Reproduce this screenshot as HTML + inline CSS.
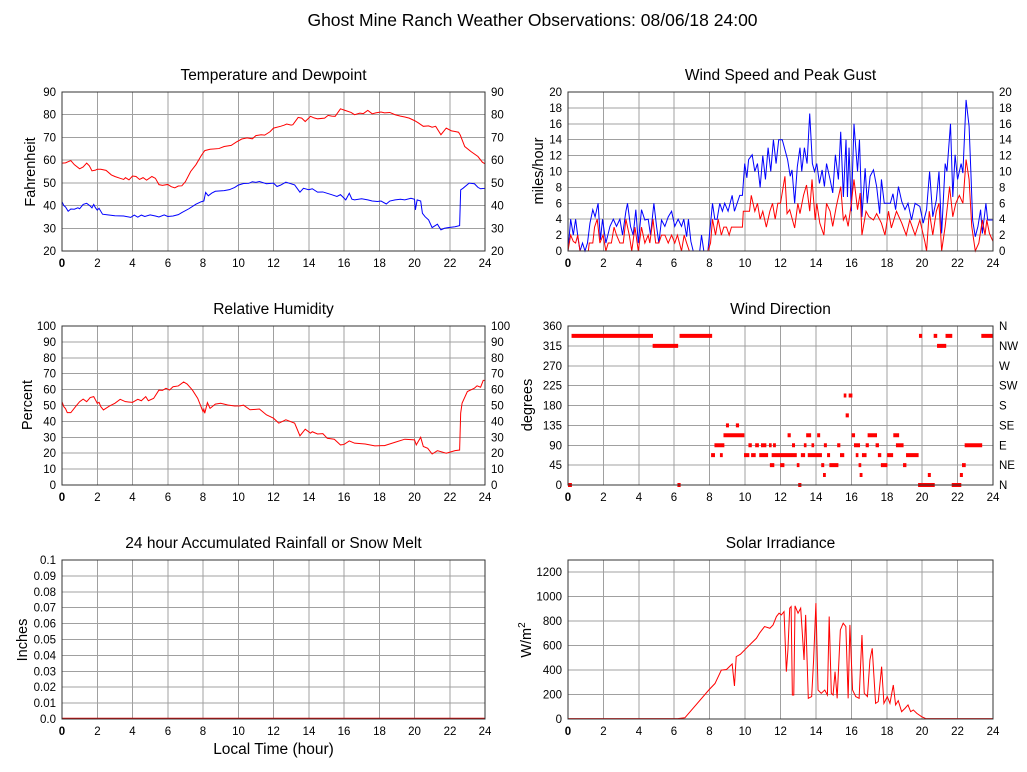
<!DOCTYPE html>
<html><head><meta charset="utf-8"><style>
html,body{margin:0;padding:0;background:#fff;}
svg{display:block;}
text{font-family:"Liberation Sans",Arial,sans-serif;fill:#000;}
.t{font-size:11.5px;}
.ttl{font-size:15.5px;}
.g{stroke:#a0a0a0;stroke-width:1;fill:none;shape-rendering:crispEdges;}
.f{stroke:#333;stroke-width:1;fill:none;shape-rendering:crispEdges;}
.r{stroke:#ff0000;stroke-width:1;fill:none;}
.b{stroke:#0000ff;stroke-width:1;fill:none;}
</style></head><body>
<svg width="1027" height="772" viewBox="0 0 1027 772" xmlns="http://www.w3.org/2000/svg">
<rect width="1027" height="772" fill="#fff"/>
<text x="532.5" y="26" text-anchor="middle" style="font-size:17.5px">Ghost Mine Ranch Weather Observations: 08/06/18 24:00</text>

<!-- titles -->
<text class="ttl" x="273.5" y="80" text-anchor="middle">Temperature and Dewpoint</text>
<text class="ttl" x="780.5" y="80" text-anchor="middle">Wind Speed and Peak Gust</text>
<text class="ttl" x="273.5" y="314" text-anchor="middle">Relative Humidity</text>
<text class="ttl" x="780.5" y="314" text-anchor="middle">Wind Direction</text>
<text class="ttl" x="273.5" y="548" text-anchor="middle">24 hour Accumulated Rainfall or Snow Melt</text>
<text class="ttl" x="780.5" y="548" text-anchor="middle">Solar Irradiance</text>
<text class="ttl" x="273.5" y="754" text-anchor="middle">Local Time (hour)</text>

<!-- y-axis labels -->
<text class="ttl" transform="translate(35,172) rotate(-90)" text-anchor="middle" style="font-size:14.5px">Fahrenheit</text>
<text class="ttl" transform="translate(543,171) rotate(-90)" text-anchor="middle" style="font-size:14.5px">miles/hour</text>
<text class="ttl" transform="translate(32,405) rotate(-90)" text-anchor="middle" style="font-size:14.5px">Percent</text>
<text class="ttl" transform="translate(532,405) rotate(-90)" text-anchor="middle" style="font-size:14.5px">degrees</text>
<text class="ttl" transform="translate(27,640) rotate(-90)" text-anchor="middle" style="font-size:14.5px">Inches</text>
<text class="ttl" transform="translate(531,640) rotate(-90)" text-anchor="middle" style="font-size:14.5px">W/m<tspan dy="-6" style="font-size:10px">2</tspan></text>

<!-- GRIDS -->
<g class="g">
<!-- left verticals -->
<path d="M97.5 92V251M132.5 92V251M168 92V251M203 92V251M238.5 92V251M273.5 92V251M309 92V251M344 92V251M379.5 92V251M414.5 92V251M450 92V251"/>
<path d="M97.5 326V485M132.5 326V485M168 326V485M203 326V485M238.5 326V485M273.5 326V485M309 326V485M344 326V485M379.5 326V485M414.5 326V485M450 326V485"/>
<path d="M97.5 560V719M132.5 560V719M168 560V719M203 560V719M238.5 560V719M273.5 560V719M309 560V719M344 560V719M379.5 560V719M414.5 560V719M450 560V719"/>
<!-- right verticals -->
<path d="M603.5 92V251M639 92V251M674 92V251M709.5 92V251M745 92V251M780.5 92V251M816 92V251M851.5 92V251M887 92V251M922 92V251M957.5 92V251"/>
<path d="M603.5 326V485M639 326V485M674 326V485M709.5 326V485M745 326V485M780.5 326V485M816 326V485M851.5 326V485M887 326V485M922 326V485M957.5 326V485"/>
<path d="M603.5 560V719M639 560V719M674 560V719M709.5 560V719M745 560V719M780.5 560V719M816 560V719M851.5 560V719M887 560V719M922 560V719M957.5 560V719"/>
<!-- temp horizontals -->
<path d="M62 114.7H485M62 137.4H485M62 160.1H485M62 182.9H485M62 205.6H485M62 228.3H485"/>
<!-- wind speed horizontals -->
<path d="M568 107.9H993M568 123.8H993M568 139.7H993M568 155.6H993M568 171.5H993M568 187.4H993M568 203.3H993M568 219.2H993M568 235.1H993"/>
<!-- RH -->
<path d="M62 341.9H485M62 357.8H485M62 373.7H485M62 389.6H485M62 405.5H485M62 421.4H485M62 437.3H485M62 453.2H485M62 469.1H485"/>
<!-- wind dir -->
<path d="M568 345.9H993M568 365.75H993M568 385.6H993M568 405.5H993M568 425.4H993M568 445.25H993M568 465.1H993"/>
<!-- rain -->
<path d="M62 575.9H485M62 591.8H485M62 607.7H485M62 623.6H485M62 639.5H485M62 655.4H485M62 671.3H485M62 687.2H485M62 703.1H485"/>
<!-- solar -->
<path d="M568 572.2H993M568 596.7H993M568 621.2H993M568 645.6H993M568 670.1H993M568 694.5H993"/>
</g>

<!-- DATA -->
<!-- temperature -->
<g transform="translate(62,296.43) scale(17.625,-2.2714)">
<polyline class="r" vector-effect="non-scaling-stroke" points="0,58.7 0.2,58.8 0.4,59.5 0.5,59.8 0.7,58 1.0,56.2 1.2,57 1.4,58.7 1.55,57.5 1.7,55.3 1.9,55.6 2.0,56 2.2,56 2.5,55.5 2.8,53.5 3.0,52.8 3.3,52 3.5,51.5 3.6,52.3 3.8,51.3 4.0,53 4.2,52.8 4.4,51.5 4.6,52.3 4.8,51.2 5.1,52.8 5.3,52 5.5,49.2 5.7,48.9 6.0,49.3 6.2,48.3 6.4,47.8 6.6,48.6 6.8,48.7 7.0,50.5 7.3,55 7.6,58 7.9,62 8.1,64.2 8.4,64.8 8.9,65.1 9.2,66 9.6,66.5 9.9,68 10.2,69.3 10.5,69.8 10.8,69.4 11.0,70.8 11.3,71.2 11.5,71 11.8,72.5 12.0,74.1 12.4,74.9 12.6,75.4 12.75,75.9 13.0,75.4 13.1,75.6 13.4,78.8 13.6,78.5 13.8,77 14.1,79.3 14.3,78.6 14.5,78.2 14.9,78.5 15.1,79.7 15.3,79.4 15.5,79.3 15.8,82.6 16.1,81.8 16.4,81 16.6,80 16.9,80.7 17.1,80.5 17.35,81.9 17.6,80.4 17.8,80.8 18.1,81.2 18.3,80.8 18.6,81 18.9,80 19.2,79.4 19.45,79 19.7,78.5 20.0,77.4 20.2,76.5 20.5,74.9 20.8,75.1 21.0,74.5 21.2,74.9 21.5,71.2 21.8,74.1 22.1,72.9 22.3,72.6 22.5,72.3 22.6,71 22.85,66 23.2,63.8 23.6,61.6 23.85,59.1 24,58.4"/>
<polyline class="b" vector-effect="non-scaling-stroke" points="0,41.7 0.1,40 0.2,39.4 0.35,37.5 0.5,38.5 0.7,38.4 0.9,39 1.0,38.6 1.2,40.5 1.4,41 1.6,39.8 1.7,39 1.8,40.5 1.9,39 2.0,38 2.1,38.8 2.3,36.2 2.6,35.9 3.0,35.5 3.5,35.4 3.9,34.8 4.1,35.8 4.3,34.9 4.5,35.8 4.7,35.2 5.0,35.9 5.3,35.4 5.5,35 5.8,35.9 6.0,35.2 6.3,35.4 6.6,36 6.8,36.9 7.2,38.6 7.6,40.6 7.9,41.7 8.05,42 8.15,45.8 8.3,44.3 8.5,45.5 8.7,46.3 9.2,46.6 9.5,47 9.8,48 10.0,49 10.3,49.7 10.6,49.8 10.8,50.5 11.0,50.2 11.2,50.6 11.6,49.6 12.0,49.9 12.2,48.4 12.4,49 12.7,50.3 13.2,49.1 13.5,45.9 13.7,47.6 14.0,47 14.2,47.4 14.5,45.9 14.8,46 15.05,45.4 15.3,44.8 15.6,44 15.8,44.8 16.1,42.5 16.3,45.4 16.45,42.8 16.6,42.5 17.0,43 17.35,42.5 17.6,42 17.9,41.8 18.1,42 18.4,40.7 18.6,42 18.9,42.5 19.2,42.8 19.45,42.5 19.8,43.2 20.0,42.8 20.05,38.1 20.15,42.5 20.35,42 20.45,36.6 20.6,35.1 20.8,33.7 21.0,30.3 21.3,31.8 21.5,29.3 21.7,30 21.9,30.3 22.3,30.7 22.56,31.2 22.62,46.9 22.75,47.6 23.1,49.9 23.4,49.6 23.6,48 23.75,47.4 24,47.6"/>
</g>

<!-- wind speed -->
<g transform="translate(568,251) scale(17.708,-7.95)">
<polyline class="b" vector-effect="non-scaling-stroke" points="0,0 0.15,4 0.3,2 0.43,4 0.58,1.4 0.68,0 0.82,1 0.96,0 1.1,1 1.24,3.5 1.4,5.2 1.53,4.3 1.7,6 1.83,1.4 1.95,4 2.14,1 2.37,3.1 2.56,4 2.74,3.1 2.93,4 3.08,2 3.27,5 3.36,6 3.53,3.1 3.68,2 3.83,5.2 3.97,1 4.15,5.2 4.34,3.9 4.53,4 4.66,2 4.85,6 5.0,3.1 5.13,1 5.28,3.9 5.47,3.1 5.66,4.3 5.85,5 6.03,3.1 6.22,4 6.41,3.1 6.54,4 6.7,1.8 6.8,4 6.94,1.2 7.07,0 7.44,0 7.54,2 7.67,0 7.9,0 8.16,6 8.29,4 8.42,4 8.57,6 8.72,5 8.85,6 9.04,5 9.27,7 9.4,5 9.7,7 9.85,7 9.98,11 10.1,9.2 10.2,11.5 10.4,12.1 10.55,10 10.7,11 10.85,8 11.0,12 11.15,9 11.3,13 11.45,10 11.6,14 11.75,11 11.9,14 12.1,14 12.4,11.5 12.55,9.4 12.65,10.2 12.8,6 12.95,10.6 13.1,13 13.2,10 13.35,13 13.5,11 13.65,17.3 13.8,11 13.92,10 14.05,11 14.2,8.5 14.35,10.2 14.48,8.1 14.6,11 14.8,9 14.95,7.3 15.1,12.1 15.27,9 15.4,15 15.55,6.8 15.7,14 15.78,6.8 15.87,13 16.0,5 16.15,16 16.35,10 16.46,14 16.6,4.3 16.78,10.4 16.9,6 17.06,9.4 17.25,10.2 17.43,8.1 17.6,4.7 17.7,9 17.86,6 18.2,6 18.35,7.2 18.5,5.2 18.66,8.1 18.85,6.2 19.03,5.2 19.2,6 19.4,3.9 19.6,6 19.87,5.6 20.06,3.5 20.25,5.2 20.42,10 20.6,4.3 20.8,6.4 20.95,10 21.1,2.2 21.3,11 21.4,10 21.6,16 21.73,6.8 21.86,12.1 22.0,9 22.2,11 22.3,9.8 22.48,19 22.65,15.7 22.75,10 22.85,3.9 23.0,1.8 23.15,3.1 23.3,5.2 23.4,2.2 23.6,6 23.7,3.9 24,3.9"/>
<polyline class="r" vector-effect="non-scaling-stroke" points="0,0 0.15,2 0.3,1.2 0.43,1 0.55,2 0.68,0 1.15,0 1.2,1 1.4,1 1.5,3 1.65,4 1.8,1 1.98,2 2.14,0 2.27,1 2.45,1 2.6,3 2.74,2 2.93,1 3.12,1 3.27,4 3.46,2 3.6,0 3.78,3 3.97,0 4.15,3 4.34,1 4.53,2 4.62,1 4.8,4 4.95,1 5.13,1 5.28,2 5.47,2 5.66,1 5.85,2 6.03,1 6.18,2 6.41,0 6.56,2 6.7,1 6.85,0 7.9,0 8.05,1 8.16,4 8.33,2 8.48,4 8.66,2 8.8,3 8.95,3 9.1,2 9.23,3 9.85,3 9.9,5 10.25,5 10.35,7 10.55,5 10.7,6 10.85,4 11.0,5 11.2,3 11.4,5 11.55,6 11.7,4 11.85,6 12.0,6 12.25,9.4 12.37,4.7 12.52,5.2 12.8,2.9 12.98,6 13.1,4.7 13.3,7 13.47,8.3 13.65,5 13.78,9 13.96,3.9 14.05,6 14.22,3.5 14.45,2 14.6,6 14.8,5 14.95,3.1 15.15,5.6 15.4,8.1 15.55,3.9 15.68,4.5 15.82,3.1 16.0,6 16.15,9 16.35,5.2 16.5,7.3 16.6,2 16.83,5 17.0,4.3 17.25,3.9 17.43,4.7 17.7,3.5 17.9,2 18.1,5 18.26,2.9 18.55,5 18.85,3.5 19.1,2 19.3,3.9 19.6,2 19.87,3.9 20.15,1.2 20.25,0 20.4,5 20.6,2 20.8,5 20.95,6 21.1,0 21.3,3.1 21.55,8.1 21.73,4.3 21.9,6 22.1,7 22.3,6 22.48,11.5 22.65,9 22.8,3.1 23.0,0 23.2,1 23.4,3.9 23.55,2 23.65,3.9 23.8,2.2 24,1.2"/>
</g>

<!-- RH -->
<g transform="translate(62,485) scale(17.625,-1.59)">
<polyline class="r" vector-effect="non-scaling-stroke" points="0,52.4 0.1,49.3 0.2,48 0.3,45.5 0.5,45.5 0.8,49.7 1.0,52.4 1.2,54 1.4,52.4 1.6,55 1.8,55.6 1.9,53.5 2.0,51.4 2.1,52 2.2,49.3 2.35,47.2 2.7,49.7 3.0,51.4 3.3,53.9 3.6,52.4 4.0,52 4.3,53.9 4.5,53 4.75,55.6 4.9,53 5.2,54.5 5.5,59.7 5.7,59.5 5.9,60.8 6.1,59.7 6.3,61.8 6.6,62.3 6.9,64.8 7.1,63.5 7.4,59.7 7.7,54.5 8.0,46.1 8.05,47.5 8.1,45.1 8.25,51.8 8.4,48.2 8.7,50.9 9.0,51.4 9.4,50.3 9.8,49.7 10.1,49.8 10.3,50.2 10.67,47.3 11.2,47.8 11.6,44.1 12.0,42 12.3,38.9 12.7,41 13.2,38.9 13.5,30.9 13.8,35.1 14.1,32.6 14.2,33.5 14.5,32.1 14.8,32.3 15.05,29.4 15.45,28.8 15.8,25.2 16.0,25.5 16.3,27.7 16.6,26.3 17.2,25.8 17.75,24.6 18.3,24.8 18.9,26.9 19.45,28.8 20.0,28.4 20.1,25.2 20.35,30 20.5,24.2 20.75,23.1 21.0,19.5 21.3,21.6 21.8,20 22.3,21.6 22.56,22 22.62,45.2 22.7,51.5 23.0,58.8 23.4,60.9 23.55,62.4 23.75,61.5 23.9,65.8 24,65.8"/>
</g>

<!-- wind direction -->
<g transform="translate(568,485) scale(17.708,-0.44167)">
<path vector-effect="non-scaling-stroke" stroke="#ff0000" stroke-width="4" fill="none" d="M0 0H0.22 M0.2 337.5H4.8 M4.78 315H6.22 M6.18 0H6.36 M6.3 337.5H8.14 M8.08 67.5H8.3 M8.27 90H8.83 M8.58 67.5H8.74 M8.78 112.5H9.96 M8.92 135H9.09 M9.48 135H9.66 M9.94 67.5H10.24 M10.34 67.5H10.6 M10.19 90H10.38 M10.57 90H10.78 M10.8 67.5H11.3 M10.9 90H11.2 M11.35 90H11.5 M11.4 45H11.65 M11.5 67.5H12.92 M11.58 90H11.74 M11.98 45H12.22 M12.4 112.5H12.58 M12.65 90H12.82 M12.92 45H13.07 M13.0 0H13.18 M13.15 67.5H13.39 M13.32 90H13.47 M13.45 112.5H13.73 M13.54 67.5H14.34 M13.75 90H13.9 M14.07 112.5H14.24 M14.3 45H14.47 M14.4 22.5H14.56 M14.45 90H14.62 M14.63 67.5H14.8 M14.76 45H15.27 M15.2 90H15.38 M15.36 67.5H15.6 M15.57 202.5H15.72 M15.85 202.5H16.06 M15.68 157.5H15.86 M16.02 112.5H16.21 M16.15 90H16.49 M16.25 67.5H16.4 M16.41 45H16.56 M16.47 22.5H16.63 M16.6 67.5H16.86 M16.81 90H16.99 M16.92 112.5H17.45 M17.37 90H17.56 M17.5 67.5H17.69 M17.67 45H18.04 M18.02 67.5H18.36 M18.37 112.5H18.7 M18.52 90H18.95 M18.92 45H19.11 M19.09 67.5H19.8 M19.82 337.5H20.0 M19.77 0H20.71 M20.32 22.5H20.49 M20.65 337.5H20.85 M20.84 315H21.36 M21.32 337.5H21.7 M21.67 0H22.21 M22.13 22.5H22.3 M22.25 45H22.46 M22.4 90H23.39 M23.34 337.5H24.02"/>
</g>

<!-- rain -->
<path d="M62 718.5H485" stroke="#e00000" stroke-width="1.5" fill="none"/>

<!-- solar -->
<g transform="translate(568,719) scale(17.708,-0.12231)">
<polyline class="r" vector-effect="non-scaling-stroke" points="0,3 6.2,3 6.6,10 7.97,240 8.3,290 8.66,400 8.95,405 9.27,450 9.4,270 9.5,510 9.74,530 10.08,580 10.36,620 10.64,660 10.83,705 11.1,756 11.4,742 11.58,769 11.77,838 11.92,865 12.05,851 12.2,878 12.33,387 12.42,565 12.52,906 12.6,919 12.67,196 12.75,196 12.82,925 12.99,865 13.14,906 13.33,483 13.42,851 13.57,169 13.76,183 13.87,483 14.0,947 14.12,237 14.3,210 14.5,237 14.65,196 14.75,838 14.87,210 14.97,196 15.08,387 15.2,169 15.38,728 15.54,783 15.69,756 15.82,169 15.92,769 16.07,237 16.25,183 16.44,169 16.6,687 16.73,210 16.91,183 17.05,483 17.18,578 17.37,128 17.52,142 17.71,428 17.84,128 18.03,183 18.18,128 18.37,278 18.5,115 18.65,150 18.84,60 19.03,87 19.2,115 19.35,60 19.5,74 19.7,46 19.97,19 20.2,3 24,3"/>
</g>

<!-- FRAMES -->
<g class="f">
<rect x="62" y="92" width="423" height="159"/>
<rect x="568" y="92" width="425" height="159"/>
<rect x="62" y="326" width="423" height="159"/>
<rect x="568" y="326" width="425" height="159"/>
<rect x="62" y="560" width="423" height="159"/>
<rect x="568" y="560" width="425" height="159"/>
</g>

<!-- TICK LABELS -->
<g class="t">
<!-- temp left -->
<g text-anchor="end">
<text x="56" y="96">90</text><text x="56" y="118.7">80</text><text x="56" y="141.4">70</text><text x="56" y="164.1">60</text><text x="56" y="186.9">50</text><text x="56" y="209.6">40</text><text x="56" y="232.3">30</text><text x="56" y="255">20</text>
</g>
<g>
<text x="491" y="96">90</text><text x="491" y="118.7">80</text><text x="491" y="141.4">70</text><text x="491" y="164.1">60</text><text x="491" y="186.9">50</text><text x="491" y="209.6">40</text><text x="491" y="232.3">30</text><text x="491" y="255">20</text>
</g>
<!-- wind speed -->
<g text-anchor="end">
<text x="562" y="96">20</text><text x="562" y="111.9">18</text><text x="562" y="127.8">16</text><text x="562" y="143.7">14</text><text x="562" y="159.6">12</text><text x="562" y="175.5">10</text><text x="562" y="191.4">8</text><text x="562" y="207.3">6</text><text x="562" y="223.2">4</text><text x="562" y="239.1">2</text><text x="562" y="255">0</text>
</g>
<g>
<text x="999" y="96">20</text><text x="999" y="111.9">18</text><text x="999" y="127.8">16</text><text x="999" y="143.7">14</text><text x="999" y="159.6">12</text><text x="999" y="175.5">10</text><text x="999" y="191.4">8</text><text x="999" y="207.3">6</text><text x="999" y="223.2">4</text><text x="999" y="239.1">2</text><text x="999" y="255">0</text>
</g>
<!-- RH -->
<g text-anchor="end">
<text x="56" y="330">100</text><text x="56" y="345.9">90</text><text x="56" y="361.8">80</text><text x="56" y="377.7">70</text><text x="56" y="393.6">60</text><text x="56" y="409.5">50</text><text x="56" y="425.4">40</text><text x="56" y="441.3">30</text><text x="56" y="457.2">20</text><text x="56" y="473.1">10</text><text x="56" y="489">0</text>
</g>
<g>
<text x="491" y="330">100</text><text x="491" y="345.9">90</text><text x="491" y="361.8">80</text><text x="491" y="377.7">70</text><text x="491" y="393.6">60</text><text x="491" y="409.5">50</text><text x="491" y="425.4">40</text><text x="491" y="441.3">30</text><text x="491" y="457.2">20</text><text x="491" y="473.1">10</text><text x="491" y="489">0</text>
</g>
<!-- wind dir -->
<g text-anchor="end">
<text x="562" y="330">360</text><text x="562" y="349.9">315</text><text x="562" y="369.75">270</text><text x="562" y="389.6">225</text><text x="562" y="409.5">180</text><text x="562" y="429.4">135</text><text x="562" y="449.25">90</text><text x="562" y="469.1">45</text><text x="562" y="489">0</text>
</g>
<g>
<text x="999" y="330">N</text><text x="999" y="349.9">NW</text><text x="999" y="369.75">W</text><text x="999" y="389.6">SW</text><text x="999" y="409.5">S</text><text x="999" y="429.4">SE</text><text x="999" y="449.25">E</text><text x="999" y="469.1">NE</text><text x="999" y="489">N</text>
</g>
<!-- rain -->
<g text-anchor="end">
<text x="56" y="564">0.1</text><text x="56" y="579.9">0.09</text><text x="56" y="595.8">0.08</text><text x="56" y="611.7">0.07</text><text x="56" y="627.6">0.06</text><text x="56" y="643.5">0.05</text><text x="56" y="659.4">0.04</text><text x="56" y="675.3">0.03</text><text x="56" y="691.2">0.02</text><text x="56" y="707.1">0.01</text><text x="56" y="723">0.0</text>
</g>
<!-- solar -->
<g text-anchor="end">
<text x="562" y="576.2">1200</text><text x="562" y="600.7">1000</text><text x="562" y="625.2">800</text><text x="562" y="649.6">600</text><text x="562" y="674.1">400</text><text x="562" y="698.5">200</text><text x="562" y="723">0</text>
</g>
<!-- x labels left -->
<g text-anchor="middle">
<text x="62" y="267" style="font-weight:bold">0</text><text x="97.5" y="267">2</text><text x="132.5" y="267">4</text><text x="168" y="267">6</text><text x="203" y="267">8</text><text x="238.5" y="267">10</text><text x="273.5" y="267">12</text><text x="309" y="267">14</text><text x="344" y="267">16</text><text x="379.5" y="267">18</text><text x="414.5" y="267">20</text><text x="450" y="267">22</text><text x="485" y="267">24</text>
<text x="62" y="501" style="font-weight:bold">0</text><text x="97.5" y="501">2</text><text x="132.5" y="501">4</text><text x="168" y="501">6</text><text x="203" y="501">8</text><text x="238.5" y="501">10</text><text x="273.5" y="501">12</text><text x="309" y="501">14</text><text x="344" y="501">16</text><text x="379.5" y="501">18</text><text x="414.5" y="501">20</text><text x="450" y="501">22</text><text x="485" y="501">24</text>
<text x="62" y="735" style="font-weight:bold">0</text><text x="97.5" y="735">2</text><text x="132.5" y="735">4</text><text x="168" y="735">6</text><text x="203" y="735">8</text><text x="238.5" y="735">10</text><text x="273.5" y="735">12</text><text x="309" y="735">14</text><text x="344" y="735">16</text><text x="379.5" y="735">18</text><text x="414.5" y="735">20</text><text x="450" y="735">22</text><text x="485" y="735">24</text>
<!-- x labels right -->
<text x="568" y="267" style="font-weight:bold">0</text><text x="603.5" y="267">2</text><text x="639" y="267">4</text><text x="674" y="267">6</text><text x="709.5" y="267">8</text><text x="745" y="267">10</text><text x="780.5" y="267">12</text><text x="816" y="267">14</text><text x="851.5" y="267">16</text><text x="887" y="267">18</text><text x="922" y="267">20</text><text x="957.5" y="267">22</text><text x="993" y="267">24</text>
<text x="568" y="501" style="font-weight:bold">0</text><text x="603.5" y="501">2</text><text x="639" y="501">4</text><text x="674" y="501">6</text><text x="709.5" y="501">8</text><text x="745" y="501">10</text><text x="780.5" y="501">12</text><text x="816" y="501">14</text><text x="851.5" y="501">16</text><text x="887" y="501">18</text><text x="922" y="501">20</text><text x="957.5" y="501">22</text><text x="993" y="501">24</text>
<text x="568" y="735" style="font-weight:bold">0</text><text x="603.5" y="735">2</text><text x="639" y="735">4</text><text x="674" y="735">6</text><text x="709.5" y="735">8</text><text x="745" y="735">10</text><text x="780.5" y="735">12</text><text x="816" y="735">14</text><text x="851.5" y="735">16</text><text x="887" y="735">18</text><text x="922" y="735">20</text><text x="957.5" y="735">22</text><text x="993" y="735">24</text>
</g>
</g>
</svg>
</body></html>
